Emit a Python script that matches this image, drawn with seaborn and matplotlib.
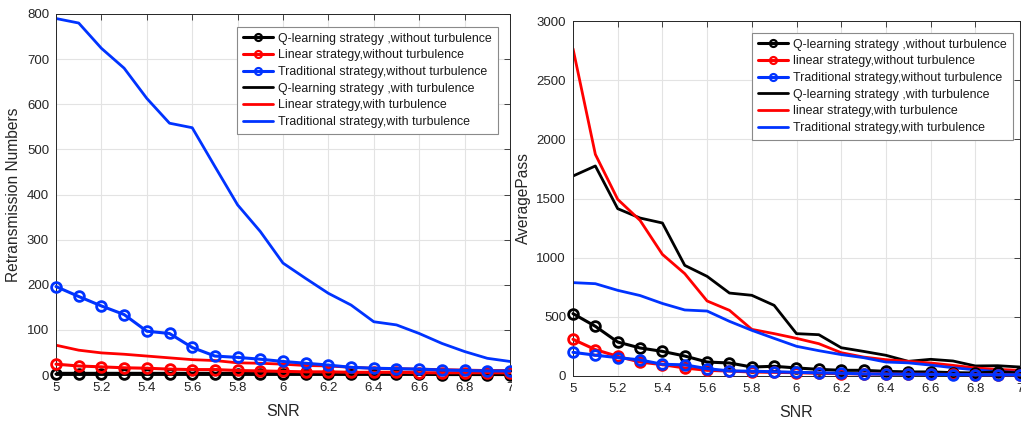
import numpy as np
import pandas as pd
import matplotlib
matplotlib.use("Agg")
import matplotlib.pyplot as plt
from matplotlib.patches import Rectangle
import seaborn as sns

sns.set_style("white")
plt.rcParams['font.family'] = ['Liberation Sans', 'DejaVu Sans']

snr = [5.0, 5.1, 5.2, 5.3, 5.4, 5.5, 5.6, 5.7, 5.8, 5.9, 6.0,
       6.1, 6.2, 6.3, 6.4, 6.5, 6.6, 6.7, 6.8, 6.9, 7.0]

# Left panel: Retransmission Numbers
retx_q_without = [2, 2, 2, 2, 2, 2, 2, 2, 2, 2, 2, 2, 2, 2, 2, 2, 2, 1, 1, 1, 1]
retx_lin_without = [24, 20, 18, 16, 15, 13, 12, 12, 10, 9, 8, 7, 7, 6, 6, 6, 5, 5, 5, 5, 5]
retx_trad_without = [196, 174, 153, 134, 97, 92, 61, 42, 39, 35, 30, 26, 22, 17, 15, 14, 13, 11, 10, 9, 9]
retx_q_with = [4, 4, 4, 4, 4, 4, 4, 4, 4, 4, 4, 4, 4, 3, 3, 3, 3, 3, 3, 3, 3]
retx_lin_with = [66, 55, 49, 46, 42, 38, 34, 32, 27, 26, 24, 21, 20, 17, 15, 14, 13, 12, 11, 10, 10]
retx_trad_with = [790, 780, 724, 680, 613, 558, 548, 462, 377, 318, 248, 214, 181, 155, 118, 111, 92, 70, 52, 37, 30]

# Right panel: AveragePass
pass_q_without = [527, 420, 287, 237, 208, 169, 118, 110, 76, 82, 68, 56, 48, 48, 39, 34, 34, 28, 25, 35, 25]
pass_lin_without = [310, 223, 166, 118, 96, 68, 48, 42, 34, 31, 28, 23, 20, 18, 16, 15, 14, 13, 12, 11, 10]
pass_trad_without = [200, 176, 155, 136, 99, 94, 62, 43, 40, 36, 31, 27, 23, 18, 16, 15, 14, 12, 11, 10, 10]
pass_q_with = [1690, 1775, 1414, 1335, 1293, 935, 842, 701, 682, 597, 358, 349, 239, 208, 175, 124, 141, 127, 85, 87, 76]
pass_lin_with = [2766, 1873, 1493, 1315, 1028, 865, 634, 555, 394, 358, 318, 273, 197, 160, 138, 124, 110, 90, 68, 56, 48]
pass_trad_with = [789, 780, 724, 680, 613, 558, 549, 462, 386, 318, 251, 214, 181, 155, 118, 111, 92, 70, 52, 37, 30]

left_labels = ["Q-learning strategy ,without turbulence",
               "Linear strategy,without turbulence",
               "Traditional strategy,without turbulence",
               "Q-learning strategy ,with turbulence",
               "Linear strategy,with turbulence",
               "Traditional strategy,with turbulence"]
right_labels = ["Q-learning strategy ,without turbulence",
                "linear strategy,without turbulence",
                "Traditional strategy,without turbulence",
                "Q-learning strategy ,with turbulence",
                "linear strategy,with turbulence",
                "Traditional strategy,with turbulence"]

colors = ["#000000", "#ff0000", "#0033ff"]
axis_col = "#262626"

W, H = 1021, 421
fig = plt.figure(figsize=(W / 100, H / 100), dpi=100)


def px_axes(l, t, r, b, z=0):
    return fig.add_axes([l / W, 1 - b / H, (r - l) / W, (b - t) / H], zorder=z)


def style(ax, ymax, ystep, ylabel):
    ax.set_xlim(5, 7)
    ax.set_ylim(0, ymax)
    ax.set_xticks(np.arange(5, 7.01, 0.2))
    ax.set_xticklabels(["5", "5.2", "5.4", "5.6", "5.8", "6", "6.2", "6.4", "6.6", "6.8", "7"])
    ax.set_yticks(np.arange(0, ymax + 1, ystep))
    ax.grid(True, color="#e3e3e3", linewidth=0.8)
    ax.set_axisbelow(True)
    ax.tick_params(direction="in", length=4, width=0.6, colors=axis_col,
                   labelsize=9.5, top=True, right=True, pad=5)
    for s in ax.spines.values():
        s.set_color(axis_col)
        s.set_linewidth(0.7)
        s.set_visible(True)
    ax.set_xlabel("SNR", fontsize=11.5, color=axis_col, labelpad=7)
    ax.set_ylabel(ylabel, fontsize=11.2, color=axis_col, labelpad=3)


def draw(ax, without, with_, labels):
    for vals, c, lab in zip(without, colors, labels[:3]):
        sns.lineplot(x=snr, y=vals, ax=ax, color=c, linewidth=2.2, marker="o",
                     markersize=7, markerfacecolor="none", markeredgecolor=c,
                     markeredgewidth=2.0, label=lab, clip_on=False, zorder=3)
    for vals, c, lab in zip(with_, colors, labels[3:]):
        sns.lineplot(x=snr, y=vals, ax=ax, color=c, linewidth=2.0, label=lab, zorder=2)


axL = px_axes(56, 14, 510, 375, z=0)
draw(axL, [retx_q_without, retx_lin_without, retx_trad_without],
     [retx_q_with, retx_lin_with, retx_trad_with], left_labels)
style(axL, 800, 100, "Retransmission Numbers")
axL.yaxis.set_label_coords((21 - 56) / 454, 0.5)

# white cover to mimic the side-by-side crop
fig.add_artist(Rectangle((512 / W, 0), 1 - 512 / W, 1, transform=fig.transFigure,
                         facecolor="white", edgecolor="none", zorder=0.5))

axR = px_axes(573, 21, 1020, 376, z=1)
draw(axR, [pass_q_without, pass_lin_without, pass_trad_without],
     [pass_q_with, pass_lin_with, pass_trad_with], right_labels)
style(axR, 3000, 500, "AveragePass")
axR.yaxis.set_label_coords((531 - 573) / 447, 0.5)

for ax, anchor in ((axL, (237, 27)), (axR, (752, 33))):
    leg = ax.legend(loc="upper left",
                    bbox_to_anchor=(anchor[0] / W, 1 - anchor[1] / H),
                    bbox_transform=fig.transFigure, fontsize=8.9, frameon=True,
                    fancybox=False, edgecolor="#8a8a8a", framealpha=1,
                    handlelength=2.5, handletextpad=0.4, labelspacing=0.38,
                    borderpad=0.45, borderaxespad=0, numpoints=1)
    leg.get_frame().set_linewidth(0.8)
    for t in leg.get_texts():
        t.set_color("#1a1a1a")
    for h in leg.get_lines():
        h.set_markersize(5)
        h.set_markeredgewidth(1.6)

fig.savefig("out.png", dpi=100)
